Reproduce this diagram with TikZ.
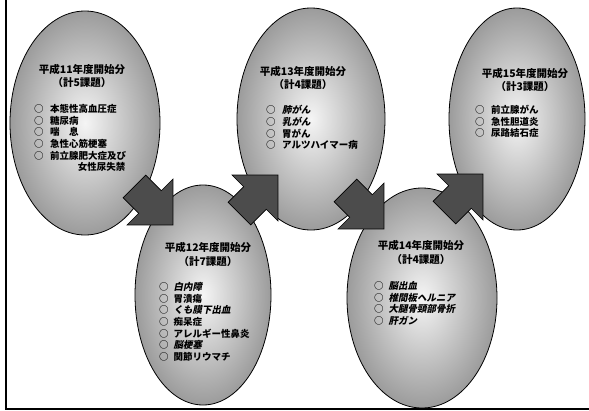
\documentclass[tikz,border=0pt]{standalone}
\usepackage{fontspec}
\usetikzlibrary{shapes.geometric}
\newfontfamily\jp{Noto Sans CJK JP}
\newfontfamily\jpsl{Noto Sans CJK JP}[FakeSlant=0.2]
\newcommand\itx[1]{{\jpsl\bfseries #1}}
\newcommand\blockarr[4]{%
  \filldraw[blockarrow, shift={(#2,#3)}, rotate=#4] (-22,-16) -- (0,-16) -- (0,-32.5) -- (32.5,0) -- (0,32.5) -- (0,16) -- (-22,16) -- cycle;%
  \coordinate (#1) at (#2,#3);}
\begin{document}
\begin{tikzpicture}[x=1pt,y=-1pt,
  egg/.style={ellipse, draw=black, line width=0.8pt, inner sep=0pt, inner color=gray!8, outer color=gray!78},
  ttl/.style={font=\jp\bfseries\fontsize{10.5}{13.5}\selectfont, align=center, inner sep=0pt},
  lst/.style={font=\jp\bfseries\fontsize{9.5}{11.5}\selectfont, inner sep=0pt, anchor=base west},
  blockarrow/.style={fill=gray!60!black, draw=black, line width=0.6pt, line join=miter}
]
\useasboundingbox (0,0) rectangle (589,410);
\fill[white] (0,0) rectangle (589,410);

% top row ellipses
\node[egg, minimum width=150pt, minimum height=224pt] (e1) at (85,123) {};
\node[ttl] (t1) at (82,76) {平成11年度開始分\\（計5課題）};
\node[lst] (l1) at (34,112.5) {\begin{tabular}[t]{@{}l@{\hspace{6.5pt}}l@{}}
○&本態性高血圧症\\○&糖尿病\\○&喘　息\\○&急性心筋梗塞\\○&前立腺肥大症及び\\&\hspace*{2.9em}女性尿失禁\end{tabular}};

\node[egg, minimum width=148pt, minimum height=222pt] (e2) at (311,119) {};
\node[ttl] (t2) at (303,78) {平成13年度開始分\\（計4課題）};
\node[lst] (l2) at (266,113.5) {\begin{tabular}[t]{@{}l@{\hspace{6.5pt}}l@{}}
○&\itx{肺がん}\\○&\itx{乳がん}\\○&胃がん\\○&アルツハイマー病\end{tabular}};

\node[egg, minimum width=136pt, minimum height=222pt] (e3) at (517,119) {};
\node[ttl] (t3) at (525,80) {平成15年度開始分\\（計3課題）};
\node[lst] (l3) at (475,113.5) {\begin{tabular}[t]{@{}l@{\hspace{6.5pt}}l@{}}
○&前立腺がん\\○&急性胆道炎\\○&尿路結石症\end{tabular}};

% bottom row ellipses
\node[egg, minimum width=136pt, minimum height=220pt] (e4) at (203,295) {};
\node[ttl] (t4) at (208,254.5) {平成12年度開始分\\（計7課題）};
\node[lst] (l4) at (159,290.5) {\begin{tabular}[t]{@{}l@{\hspace{5pt}}l@{}}
○&\itx{白内障}\\○&胃潰瘍\\○&\itx{くも膜下出血}\\○&痴呆症\\○&アレルギー性鼻炎\\○&\itx{脳梗塞}\\○&関節リウマチ\end{tabular}};

\node[egg, minimum width=150pt, minimum height=220pt] (e5) at (422,298) {};
\node[ttl] (t5) at (421,252.5) {平成14年度開始分\\（計4課題）};
\node[lst] (l5) at (374,289.5) {\begin{tabular}[t]{@{}l@{\hspace{5pt}}l@{}}
○&\itx{脳出血}\\○&\itx{椎間板ヘルニア}\\○&\itx{大腿骨頸部骨折}\\○&\itx{肝ガン}\end{tabular}};

% block arrows
\blockarr{a1}{150}{202}{-45}
\blockarr{a2}{255}{198}{45}
\blockarr{a3}{361}{206}{-45}
\blockarr{a4}{460}{197}{45}

% frame
\draw[line width=2.2pt] (6,0) -- (6,408.8) -- (589,408.8);
\end{tikzpicture}
\end{document}
